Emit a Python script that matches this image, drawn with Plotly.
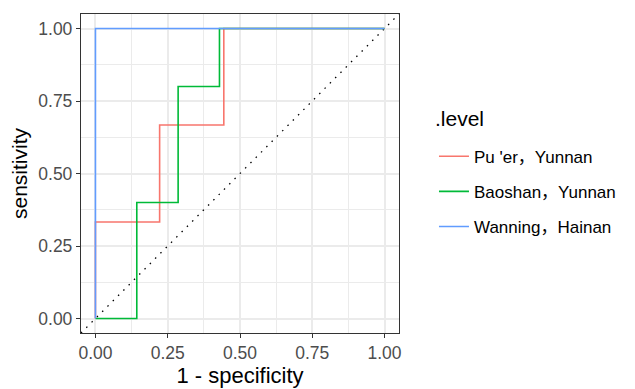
import plotly.graph_objects as go

# ROC step coordinates (1 - specificity, sensitivity) for each origin
levels = ["Pu 'er，Yunnan", "Baoshan，Yunnan", "Wanning，Hainan"]
colors = ["#F8766D", "#00BA38", "#619CFF"]

puer_fpr = [0, 0, 0.222, 0.222, 0.444, 0.444, 1]
puer_tpr = [0, 0.333, 0.333, 0.667, 0.667, 1, 1]

baoshan_fpr = [0, 0.143, 0.143, 0.286, 0.286, 0.429, 0.429, 1]
baoshan_tpr = [0, 0, 0.4, 0.4, 0.8, 0.8, 1, 1]

wanning_fpr = [0, 0, 1]
wanning_tpr = [0, 1, 1]

# reference diagonal (chance line) spanning the panel
diag = [-0.05, 1.05]

tick_vals = [0, 0.25, 0.5, 0.75, 1.0]
tick_text = ["0.00", "0.25", "0.50", "0.75", "1.00"]

FONT = "Liberation Sans, Arial, Noto Sans CJK SC, sans-serif"

fig = go.Figure()

fig.add_trace(go.Scatter(
    x=diag, y=diag, mode="lines", showlegend=False, hoverinfo="skip",
    line=dict(color="black", width=1.3, dash="1.5px,6px"),
))

series = [(puer_fpr, puer_tpr), (baoshan_fpr, baoshan_tpr), (wanning_fpr, wanning_tpr)]
for name, col, (fx, ty) in zip(levels, colors, series):
    fig.add_trace(go.Scatter(
        x=fx, y=ty, mode="lines", name=name, legendgroup=name,
        line=dict(color=col, width=1.6),
    ))

axis_common = dict(
    range=[-0.05, 1.05],
    tickvals=tick_vals, ticktext=tick_text,
    showgrid=True, gridcolor="#EBEBEB", gridwidth=1.5,
    minor=dict(tickvals=[0.125, 0.375, 0.625, 0.875], showgrid=True,
               gridcolor="#EBEBEB", gridwidth=0.8, ticklen=0),
    zeroline=False,
    showline=True, linecolor="#333333", linewidth=1.3, mirror=True,
    ticks="outside", ticklen=4, tickwidth=1.1, tickcolor="#333333",
    tickfont=dict(family=FONT, size=17.5, color="#4D4D4D"),
    fixedrange=True,
)

fig.update_layout(
    width=635, height=389,
    margin=dict(l=81, r=236, t=14, b=56, autoexpand=False),
    paper_bgcolor="white", plot_bgcolor="white",
    xaxis=dict(axis_common, title=dict(text="1 - specificity", standoff=4,
                                       font=dict(family=FONT, size=22, color="black"))),
    yaxis=dict(axis_common, title=dict(text="sensitivity", standoff=4,
                                       font=dict(family=FONT, size=21, color="black"))),
    legend=dict(
        font=dict(family=FONT, size=17, color="black"),
        x=1.11, xanchor="left", y=0.609, yanchor="top",
        tracegroupgap=10, bgcolor="rgba(0,0,0,0)",
    ),
    showlegend=True,
    annotations=[dict(
        text=".level", xref="paper", yref="paper", x=1.107, y=0.671,
        xanchor="left", yanchor="middle", showarrow=False,
        font=dict(family=FONT, size=21, color="black"),
    )],
)

fig.write_html("out.html")
